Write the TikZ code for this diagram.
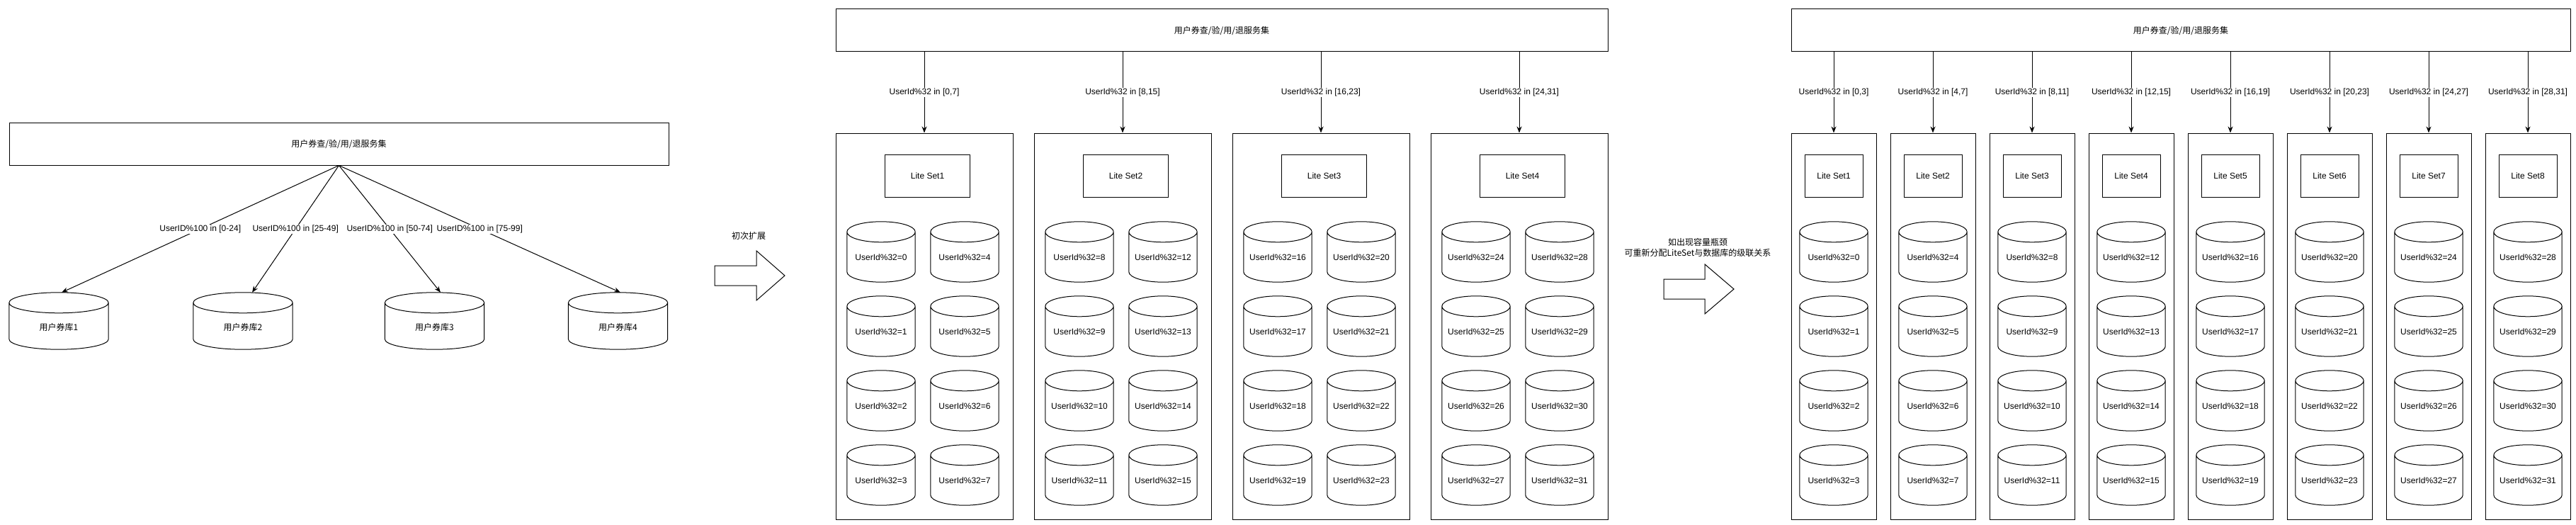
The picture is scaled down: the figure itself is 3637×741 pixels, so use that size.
\documentclass[tikz,border=0pt]{standalone}
\usepackage{fontspec}
\setmainfont{Liberation Sans}
\newfontfamily\cjk{Noto Sans CJK SC}
\usetikzlibrary{arrows.meta,calc}
\newcommand\cylout[1]{%
  \draw[line width=1pt] let \p1=(#1.north west), \p2=(#1.south east), \n1={(\x2-\x1)/2} in
    (\x1,\y1-14.5pt) -- (\x1,\y2+14.5pt)
    arc[start angle=180,end angle=360,x radius=\n1,y radius=14.5pt]
    -- (\x2,\y1-14.5pt)
    ({(\x1+\x2)/2},\y1-14.5pt) ellipse[x radius=\n1,y radius=14.5pt];}
\begin{document}
\begin{tikzpicture}[x=1pt,y=-1pt,
  every node/.style={font=\fontsize{12}{15}\selectfont},
  cjkfont/.style={font=\cjk\fontsize{12}{15}\selectfont},
  svcbox/.style={draw,line width=1pt,inner sep=0pt,minimum height=60pt,cjkfont},
  setbox/.style={draw,line width=1pt,inner sep=0pt,minimum height=545pt},
  litebox/.style={draw,line width=1pt,inner sep=0pt,minimum height=60pt},
  dbm/.style={inner sep=0pt,minimum width=96pt,minimum height=85pt},
  dbl/.style={inner sep=0pt,minimum width=140pt,minimum height=80pt},
  dbtxt/.style={yshift=-7.5pt},
  dbltxt/.style={yshift=-8.5pt,cjkfont},
  conn/.style={line width=1pt,-{Stealth[length=9pt,width=7pt]}},
  lab/.style={fill=white,inner sep=1pt},
  blockarrow/.style={draw,line width=1pt,line join=miter}]
\fill[white] (0,0) rectangle (3637,741);
\useasboundingbox (0,0) rectangle (3637,741);

% ---------- left part ----------
\node[svcbox,minimum width=931pt] (svcL) at (478.5,203) {用户券查/验/用/退服务集};
\node[dbl,label={[dbltxt]center:用户券库1}] (ldb1) at (83,453) {};
\node[dbl,label={[dbltxt]center:用户券库2}] (ldb2) at (343,453) {};
\node[dbl,label={[dbltxt]center:用户券库3}] (ldb3) at (613.5,453) {};
\node[dbl,label={[dbltxt]center:用户券库4}] (ldb4) at (872.5,453) {};
\cylout{ldb1}\cylout{ldb2}\cylout{ldb3}\cylout{ldb4}
\draw[conn] (svcL.south) -- node[lab]{UserID\%100 in [0-24]} ([xshift=4pt]ldb1.north);
\draw[conn] (svcL.south) -- node[lab]{UserID\%100 in [25-49]} ([xshift=13pt]ldb2.north);
\draw[conn] (svcL.south) -- node[lab]{UserID\%100 in [50-74]} ([xshift=8.5pt]ldb3.north);
\draw[conn] (svcL.south) -- node[lab]{UserID\%100 in [75-99]} ([xshift=3.5pt]ldb4.north);

% ---------- first block arrow ----------
\node[cjkfont] (t1) at (1057,333) {初次扩展};
\draw[blockarrow] (1009,375) -- (1068,375) -- (1068,354) -- (1108,389) -- (1068,424) -- (1068,403) -- (1009,403) -- cycle;

% ---------- middle part ----------
\node[svcbox,minimum width=1090pt] (svcM) at (1725,43) {用户券查/验/用/退服务集};
\foreach \i in {1,...,4}{
  \pgfmathsetmacro\cx{1305+280*(\i-1)}
  \pgfmathtruncatemacro\lo{8*(\i-1)}
  \pgfmathtruncatemacro\hi{8*\i-1}
  \node[setbox,minimum width=250pt] (mset\i) at (\cx,460.5) {};
  \node[litebox,minimum width=120pt] (mlite\i) at (\cx+4.5,248) {Lite Set\i};
  \draw[conn] (svcM.south -| mset\i.north) -- node[lab]{UserId\%32 in [\lo,\hi]} (mset\i.north);
  \foreach \r in {0,...,3}{
    \pgfmathtruncatemacro\va{8*(\i-1)+\r}
    \pgfmathtruncatemacro\vb{8*(\i-1)+4+\r}
    \node[dbm,label={[dbtxt]center:UserId\%32=\va}] (mdb\va) at (\cx-61,355.5+105*\r) {};
    \cylout{mdb\va}
    \node[dbm,label={[dbtxt]center:UserId\%32=\vb}] (mdb\vb) at (\cx+57,355.5+105*\r) {};
    \cylout{mdb\vb}
  }
}

% ---------- second block arrow ----------
\node[cjkfont,align=center] (t2) at (2397,349) {如出现容量瓶颈\\可重新分配LiteSet与数据库的级联关系};
\draw[blockarrow] (2349,394) -- (2407,394) -- (2407,373) -- (2448,408) -- (2407,443) -- (2407,422) -- (2349,422) -- cycle;

% ---------- right part ----------
\node[svcbox,minimum width=1100pt] (svcR) at (3079,43) {用户券查/验/用/退服务集};
\foreach \j in {1,...,8}{
  \pgfmathsetmacro\cx{2589+140*(\j-1)}
  \pgfmathtruncatemacro\lo{4*(\j-1)}
  \pgfmathtruncatemacro\hi{4*\j-1}
  \node[setbox,minimum width=120pt] (rset\j) at (\cx,460.5) {};
  \node[litebox,minimum width=82pt] (rlite\j) at (\cx,248) {Lite Set\j};
  \draw[conn] (svcR.south -| rset\j.north) -- node[lab]{UserId\%32 in [\lo,\hi]} (rset\j.north);
  \foreach \r in {0,...,3}{
    \pgfmathtruncatemacro\va{4*(\j-1)+\r}
    \node[dbm,label={[dbtxt]center:UserId\%32=\va}] (rdb\va) at (\cx,355.5+105*\r) {};
    \cylout{rdb\va}
  }
}
\end{tikzpicture}
\end{document}
